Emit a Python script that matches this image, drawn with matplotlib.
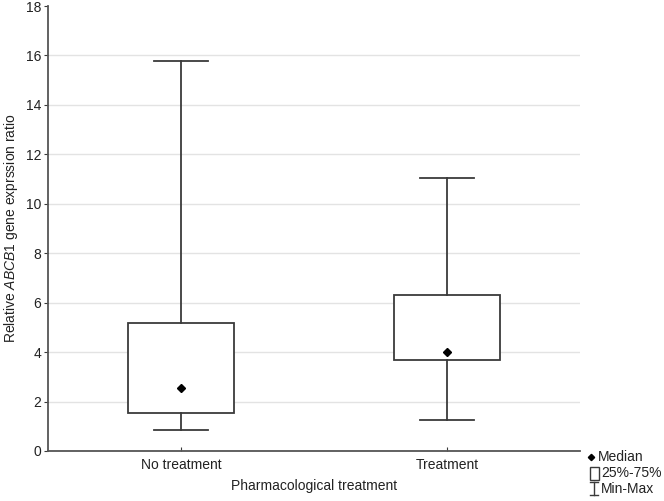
import matplotlib
matplotlib.use("Agg")
import matplotlib.pyplot as plt
from matplotlib.lines import Line2D
from matplotlib.patches import Rectangle

plt.rcParams['font.family'] = ['Liberation Sans', 'DejaVu Sans']
plt.rcParams['mathtext.fontset'] = 'custom'
plt.rcParams['mathtext.rm'] = 'Liberation Sans'
plt.rcParams['mathtext.it'] = 'Liberation Sans:italic'
plt.rcParams['text.color'] = '#222222'
plt.rcParams['axes.labelcolor'] = '#222222'
plt.rcParams['xtick.labelcolor'] = '#222222'
plt.rcParams['ytick.labelcolor'] = '#222222'

categories = ["No treatment", "Treatment"]
mins = [0.85, 1.25]
q1s = [1.52, 3.68]
medians = [2.55, 4.02]
q3s = [5.18, 6.31]
maxs = [15.78, 11.06]
yticks = [0, 2, 4, 6, 8, 10, 12, 14, 16, 18]

fig = plt.figure(figsize=(6.64, 5.01), dpi=100)
ax = fig.add_axes([48/664, 50/501, 532/664, 445/501])

stats = []
for c, lo, a, m, b, hi in zip(categories, mins, q1s, medians, q3s, maxs):
    stats.append(dict(label=c, whislo=lo, q1=a, med=m, q3=b, whishi=hi, fliers=[]))

lc = '#3a3a3a'
ax.bxp(stats, positions=range(len(categories)), widths=0.4, showfliers=False,
       patch_artist=True, manage_ticks=False,
       boxprops=dict(facecolor='white', edgecolor=lc, linewidth=1.3),
       whiskerprops=dict(color=lc, linewidth=1.3),
       capprops=dict(color=lc, linewidth=1.3),
       medianprops=dict(linewidth=0), capwidths=0.2, zorder=3)
ax.plot(range(len(categories)), medians, linestyle='none', marker='D',
        markersize=4.3, color='black', zorder=4)

ax.set_xlim(-0.5, 1.5)
ax.set_ylim(0, 18)
ax.set_yticks(yticks)
ax.set_xticks(range(len(categories)))
ax.set_xticklabels(categories, fontsize=10)
ax.tick_params(axis='y', labelsize=10, direction='out', length=3, color=lc, pad=2)
ax.tick_params(axis='x', direction='in', length=3, color=lc, pad=5)
ax.yaxis.grid(True, color='#e3e3e3', linewidth=1.0, zorder=0)
ax.set_axisbelow(True)
ax.get_ygridlines()[-1].set_visible(False)
for s in ['top', 'right']:
    ax.spines[s].set_visible(False)
for s in ['left', 'bottom']:
    ax.spines[s].set_color('#555555')
    ax.spines[s].set_linewidth(1.3)

ax.set_xlabel('Pharmacological treatment', fontsize=10, labelpad=5)
ax.set_ylabel(r'Relative $\it{ABCB1}$ gene exprssion ratio', fontsize=10, labelpad=4)

# legend drawn manually in figure pixel coords
W, H = 664, 501
def fx(x): return x / W
def fy(y): return 1 - y / H
fig.add_artist(Line2D([fx(591)], [fy(457)], marker='D', markersize=3.2, color='black'))
fig.text(fx(598), fy(457), 'Median', fontsize=10, va='center', ha='left')
fig.add_artist(Rectangle((fx(590), fy(480)), fx(599) - fx(590), fy(467) - fy(480),
                         facecolor='white', edgecolor=lc, linewidth=1.0, transform=fig.transFigure))
fig.text(fx(601), fy(473), '25%-75%', fontsize=10, va='center', ha='left')
fig.add_artist(Line2D([fx(594), fx(594)], [fy(482), fy(495)], color=lc, linewidth=1.0))
fig.add_artist(Line2D([fx(590), fx(598)], [fy(482), fy(482)], color=lc, linewidth=1.0))
fig.add_artist(Line2D([fx(590), fx(598)], [fy(495), fy(495)], color=lc, linewidth=1.0))
fig.text(fx(601), fy(489), 'Min-Max', fontsize=10, va='center', ha='left')

fig.savefig('out.png', dpi=100)
